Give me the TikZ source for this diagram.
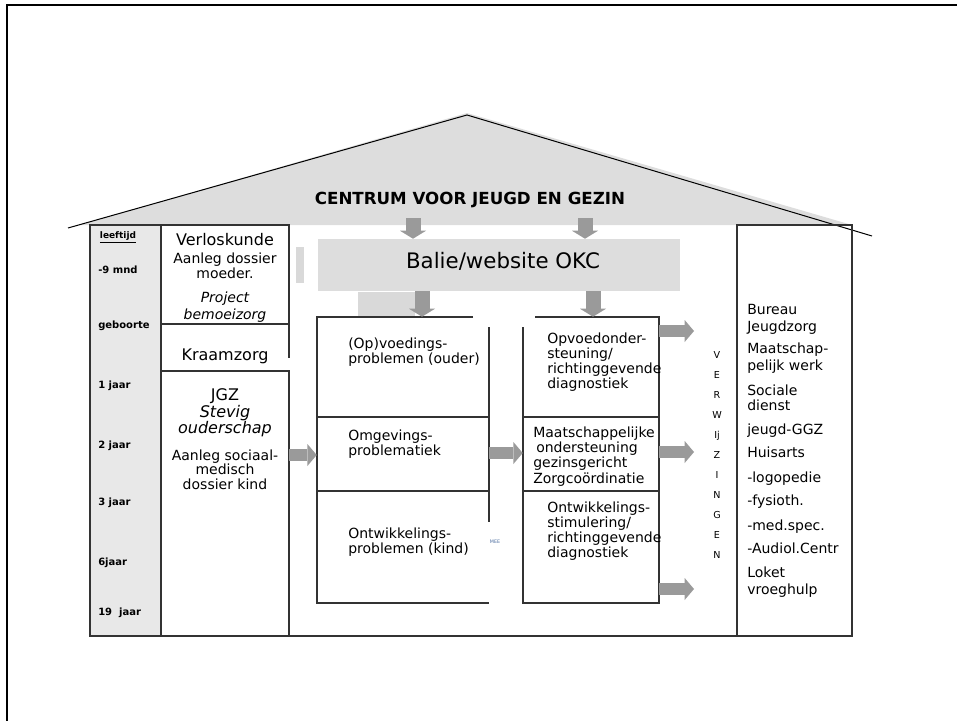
\documentclass[tikz,border=0pt]{standalone}
\usepackage{fontspec}
\setmainfont{DejaVu Sans}[ItalicFont=DejaVu Sans Oblique,BoldFont=DejaVu Sans Bold,BoldItalicFont=DejaVu Sans Bold Oblique]
\usetikzlibrary{arrows.meta,calc}
\definecolor{roofgray}{HTML}{DDDDDD}
\definecolor{agegray}{HTML}{E8E8E8}
\definecolor{baliegray}{HTML}{DDDDDD}
\definecolor{patchgray}{HTML}{D9D9D9}
\definecolor{arrgray}{HTML}{9A9A9A}
\definecolor{linec}{HTML}{333333}
\definecolor{meeblue}{HTML}{4F6FA0}
\begin{document}
\begin{tikzpicture}[x=0.75pt,y=-0.75pt,
  boxline/.style={draw=linec,line width=0.8pt},
  varrow/.style={draw=arrgray,line width=11.25pt,-{Triangle[length=6pt,width=19.5pt,line width=0pt]}},
  harrow/.style={draw=arrgray,line width=9pt,-{Triangle[length=7pt,width=16.5pt,line width=0pt]}},
  agetxt/.style={font=\fontsize{7.5}{9}\selectfont\bfseries,inner sep=0pt,anchor=base west},
  big/.style={font=\fontsize{12}{14}\selectfont,inner sep=0pt,anchor=base},
  bigit/.style={font=\fontsize{12}{14}\selectfont\itshape,inner sep=0pt,anchor=base},
  mid/.style={font=\fontsize{10.5}{12}\selectfont,inner sep=0pt,anchor=base},
  midit/.style={font=\fontsize{10.5}{12}\selectfont\itshape,inner sep=0pt,anchor=base},
  lefttxt/.style={font=\fontsize{10.5}{12}\selectfont,inner sep=0pt,anchor=base west},
  lettertxt/.style={font=\fontsize{7.2}{8}\selectfont,inner sep=0pt,anchor=base},
  area/.style={inner sep=0pt,draw=none}
]
\useasboundingbox (0,0) rectangle (957,721);

% frame
\draw[line width=1.6pt,black] (7,721) -- (7,5) -- (957,5);

% roof
\fill[roofgray] (79,225) -- (467,113) -- (852,225) -- cycle;
\draw[line width=0.75pt,black] (68,228) -- (467,115) -- (872,236);
\node[font=\fontsize{12.5}{14}\selectfont\bfseries,inner sep=0pt,anchor=base] (centrum) at (470,204) {CENTRUM VOOR JEUGD EN GEZIN};

% area nodes (for connectors)
\node[area,minimum width=271.5pt,minimum height=39pt,fill=baliegray] (balie) at (499,265) {};
\node[area,minimum width=129pt,minimum height=214.5pt] (mleft) at (403,460) {};
\node[area,minimum width=102pt,minimum height=214.5pt] (mright) at (591,460) {};
\node[area,minimum width=96pt,minimum height=198.75pt] (jgz) at (225,503.5) {};
\node[area,minimum width=86.25pt,minimum height=308.25pt] (rbox) at (794.5,430.5) {};

% grey patches
\fill[patchgray] (296,247) rectangle (304,283);
\fill[patchgray] (358,292) rectangle (415,317);

% age column
\draw[boxline,fill=agegray] (90,225) rectangle (161,636);
% second column
\draw[boxline] (161,225) rectangle (289,324);
\draw[boxline] (161,324) -- (161,371);
\draw[boxline] (289,324) -- (289,358);
\draw[boxline] (161,371) rectangle (289,636);
% bottom line of body
\draw[boxline] (289,636) -- (737,636);
% right box
\draw[boxline] (737,225) rectangle (852,636);

% middle left box
\draw[boxline] (473,317) -- (317,317) -- (317,603) -- (489,603);
\draw[boxline] (489,327) -- (489,522);
\draw[boxline] (317,417) -- (489,417);
\draw[boxline] (317,491) -- (489,491);
% middle right box
\draw[boxline] (535,317) -- (659,317) -- (659,603) -- (523,603) -- (523,327);
\draw[boxline] (523,417) -- (659,417);
\draw[boxline] (523,491) -- (659,491);

% arrows
\coordinate (ra1) at (413,218);
\coordinate (ra2) at (585,218);
\draw[varrow] (ra1) -- (ra1 |- balie.north);
\draw[varrow] (ra2) -- (ra2 |- balie.north);
\draw[varrow] (balie.south -| 422,0) -- (mleft.north -| 422,0);
\draw[varrow] (balie.south -| 593,0) -- (mright.north -| 593,0);
\draw[harrow] (jgz.east |- 0,455) -- (mleft.west |- 0,455);
\draw[harrow] (mleft.east |- 0,453) -- (mright.west |- 0,453);
\coordinate (ve1) at (694,331);
\coordinate (ve2) at (694,452);
\coordinate (ve3) at (694,589);
\draw[harrow] (mright.east |- ve1) -- (ve1);
\draw[harrow] (mright.east |- ve2) -- (ve2);
\draw[harrow] (mright.east |- ve3) -- (ve3);

% balie text
\node[font=\fontsize{16}{18}\selectfont,inner sep=0pt,anchor=base] (balietxt) at (503,268) {Balie/website OKC};

% ages
\node[font=\fontsize{6.75}{8}\selectfont\bfseries,inner sep=0pt,anchor=base] (lt) at (118,238) {\underline{leeftijd}};
\foreach \y/\t [count=\i] in {273.5/-9 mnd,328.5/geboorte,388.5/1 jaar,448.5/2 jaar,505.5/3 jaar,565.5/6jaar,615.5/{19\ \ jaar}}
  \node[agetxt] (age\i) at (98,\y) {\t};

% second column texts
\node[big] (vk1) at (225,245.5) {Verloskunde};
\node[mid] (vk2) at (225,263) {Aanleg dossier};
\node[mid] (vk3) at (225,278) {moeder.};
\node[midit] (vk4) at (225,302) {Project};
\node[midit] (vk5) at (225,319) {bemoeizorg};
\node[big] (kz) at (225,360.5) {Kraamzorg};
\node[big] (jg1) at (225,400.5) {JGZ};
\node[bigit] (jg2) at (225,417.5) {Stevig};
\node[bigit] (jg3) at (225,433.5) {ouderschap};
\node[mid] (jg4) at (225,460) {Aanleg sociaal-};
\node[mid] (jg5) at (225,474.5) {medisch};
\node[mid] (jg6) at (225,489) {dossier kind};

% middle left texts
\node[lefttxt] (ml1) at (348,348) {(Op)voedings-};
\node[lefttxt] (ml2) at (348,363) {problemen (ouder)};
\node[lefttxt] (ml3) at (348,440) {Omgevings-};
\node[lefttxt] (ml4) at (348,455) {problematiek};
\node[lefttxt] (ml5) at (348,538) {Ontwikkelings-};
\node[lefttxt] (ml6) at (348,553) {problemen (kind)};
\node[font=\fontsize{3.6}{4}\selectfont,text=meeblue,inner sep=0pt,anchor=base] (mee) at (495,543) {MEE};

% middle right texts
\node[lefttxt] (mr1) at (547,343) {Opvoedonder-};
\node[lefttxt] (mr2) at (547,358) {steuning/};
\node[lefttxt] (mr3) at (547,373) {richtinggevende};
\node[lefttxt] (mr4) at (547,388) {diagnostiek};
\node[lefttxt] (mr5) at (533,437) {Maatschappelijke};
\node[lefttxt] (mr6) at (536,452) {ondersteuning};
\node[lefttxt] (mr7) at (533,467) {gezinsgericht};
\node[lefttxt] (mr8) at (533,483) {Zorgcoördinatie};
\node[lefttxt] (mr9) at (547,512) {Ontwikkelings-};
\node[lefttxt] (mr10) at (547,527) {stimulering/};
\node[lefttxt] (mr11) at (547,542) {richtinggevende};
\node[lefttxt] (mr12) at (547,557) {diagnostiek};

% VERWIJZINGEN
\foreach \l [count=\i] in {V,E,R,W,Ij,Z,I,N,G,E,N}
  \node[lettertxt] (vw\i) at (717,{358+20*(\i-1)}) {\l};

% right box texts
\foreach \y/\t [count=\i] in {314/Bureau,331/Jeugdzorg,353/Maatschap-,370/pelijk werk,395/Sociale,410/dienst,434/jeugd-GGZ,457/Huisarts,482/-logopedie,505/-fysioth.,530/-med.spec.,553/-Audiol.Centr,577/Loket,594/vroeghulp}
  \node[lefttxt] (rt\i) at (747,\y) {\t};

\end{tikzpicture}
\end{document}
